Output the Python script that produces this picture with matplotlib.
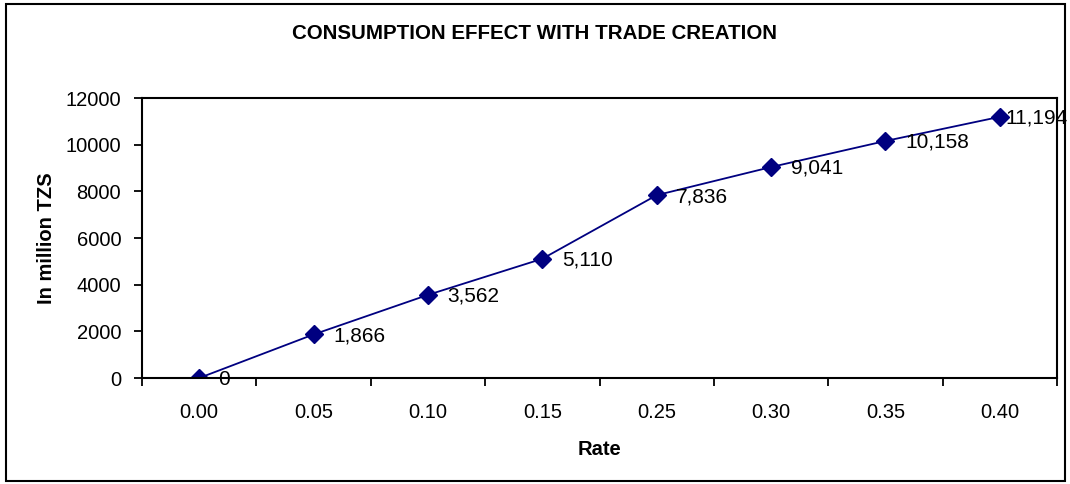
import numpy as np
import matplotlib.pyplot as plt
from matplotlib.patches import Rectangle

plt.rcParams['font.family'] = ['Liberation Sans', 'DejaVu Sans']

rates = ['0.00', '0.05', '0.10', '0.15', '0.25', '0.30', '0.35', '0.40']
consumption = [0, 1866, 3562, 5110, 7836, 9041, 10158, 11194]

fig = plt.figure(figsize=(10.70, 4.84), dpi=100)
ax = fig.add_axes([0.1327, 0.219, 0.8552, 0.5785])

x = np.arange(len(rates))
ax.plot(x, consumption, color='#000080', lw=1.3, marker='D', markersize=9,
        markerfacecolor='#000080', markeredgecolor='#000080')

# data labels to the right of each point (last one pulled in, like Excel does)
for i, v in enumerate(consumption):
    off = 4 if i == len(consumption) - 1 else 14
    ax.annotate(f"{v:,}", (x[i], v), xytext=(off, -1), textcoords='offset points',
                ha='left', va='center', fontsize=15, color='black')

ax.set_xlim(-0.5, len(rates) - 0.5)
ax.set_ylim(0, 12000)
ax.set_yticks(np.arange(0, 12001, 2000))

# category labels centred, tick marks between categories
ax.set_xticks(x)
ax.set_xticklabels(rates)
ax.set_xticks(np.arange(-0.5, len(rates), 1.0), minor=True)
ax.tick_params(axis='x', which='major', length=0, pad=18, labelsize=14.5)
ax.tick_params(axis='x', which='minor', length=6, width=1.3, direction='out')
ax.tick_params(axis='y', length=6, width=1.3, direction='out', pad=9, labelsize=14.5)

for s in ax.spines.values():
    s.set_linewidth(1.5)
    s.set_color('black')

ax.set_xlabel('Rate', fontsize=14.5, fontweight='bold', labelpad=13)
ax.set_ylabel('In million TZS', fontsize=14.5, fontweight='bold', labelpad=7)

fig.text(0.5, 0.93, 'CONSUMPTION EFFECT WITH TRADE CREATION', ha='center', va='center',
         fontsize=14.8, fontweight='bold')

# outer chart border
fig.patches.append(Rectangle((0.006, 0.006), 0.989, 0.986, transform=fig.transFigure,
                             fill=False, edgecolor='black', lw=1.5))

fig.savefig('out.png', dpi=100)
